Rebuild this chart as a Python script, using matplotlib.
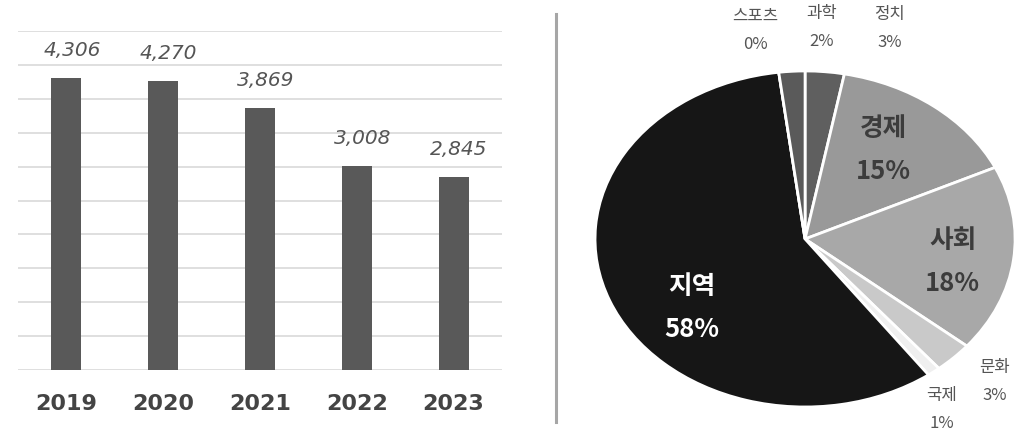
import matplotlib.pyplot as plt
import numpy as np
from matplotlib.lines import Line2D

plt.rcParams['font.family'] = ['Noto Sans CJK KR', 'DejaVu Sans']

# yearly counts
years = ['2019', '2020', '2021', '2022', '2023']
counts = [4306, 4270, 3869, 3008, 2845]

# share by topic, clockwise from 12 o'clock
topics = ['정치', '경제', '사회', '문화', '국제', '지역', '스포츠', '과학']
shares = [3, 15, 18, 3, 1, 58, 0, 2]
topic_colors = ['#5f5f5f', '#999999', '#a8a8a8', '#c9c9c9', '#efefef',
                '#161616', '#5f5f5f', '#5a5a5a']

# where each pie label goes (axes fraction), and how it looks
label_pos = {
    '정치': (0.702, 1.128), '경제': (0.686, 0.768), '사회': (0.852, 0.435),
    '문화': (0.952, 0.080), '국제': (0.825, -0.005), '지역': (0.231, 0.298),
    '스포츠': (0.381, 1.125), '과학': (0.540, 1.131),
}
big_labels = {'경제': '#3c3c3c', '사회': '#3c3c3c', '지역': 'white'}


def draw_bars(ax):
    x = np.arange(len(years))
    ax.bar(x, counts, width=0.31, color='#595959', zorder=3)
    ax.set_xlim(-0.5, len(years) - 0.5)
    ax.set_ylim(0, 5000)
    ax.set_yticks(np.arange(0, 5001, 500))
    ax.yaxis.grid(True, color='#d9d9d9', linewidth=1.2)
    ax.tick_params(axis='y', left=False, labelleft=False)
    ax.tick_params(axis='x', bottom=False, labelsize=16, labelcolor='#444444', pad=13)
    ax.set_xticks(x)
    ax.set_xticklabels(years, fontweight='bold', family='DejaVu Sans')
    for s in ax.spines.values():
        s.set_visible(False)
    for xi, v in zip(x, counts):
        ax.annotate(f'{v:,}', (xi, v), xytext=(4, 20.5), textcoords='offset points',
                    ha='center', va='center', fontsize=14.5, style='italic',
                    color='#555555', family='DejaVu Sans')


def draw_pie(ax):
    ax.pie(shares, colors=topic_colors, startangle=90, counterclock=False,
           radius=1, wedgeprops=dict(edgecolor='white', linewidth=2))
    ax.set_aspect('auto')
    ax.set_xlim(-1, 1)
    ax.set_ylim(-1, 1)
    for name, val in zip(topics, shares):
        px, py = label_pos[name]
        if name in big_labels:
            ax.text(px, py, f'{name}\n{val}%', transform=ax.transAxes, ha='center',
                    va='center', fontsize=18.5, fontweight='bold', linespacing=1.75,
                    color=big_labels[name])
        else:
            ax.text(px, py, f'{name}\n{val}%', transform=ax.transAxes, ha='center',
                    va='center', fontsize=12, linespacing=1.85, color='#555555',
                    clip_on=False)


fig = plt.figure(figsize=(10.21, 4.31), dpi=100)
ax_bar = fig.add_axes([0.0176, 0.139, 0.474, 0.7865])
ax_pie = fig.add_axes([0.5828, 0.0534, 0.4114, 0.7796])
draw_bars(ax_bar)
draw_pie(ax_pie)

fig.add_artist(Line2D([0.5445, 0.5445], [0.018, 0.965], transform=fig.transFigure,
                      color='#a6a6a6', linewidth=2.2))

fig.savefig('out.png', dpi=100, facecolor='white')
